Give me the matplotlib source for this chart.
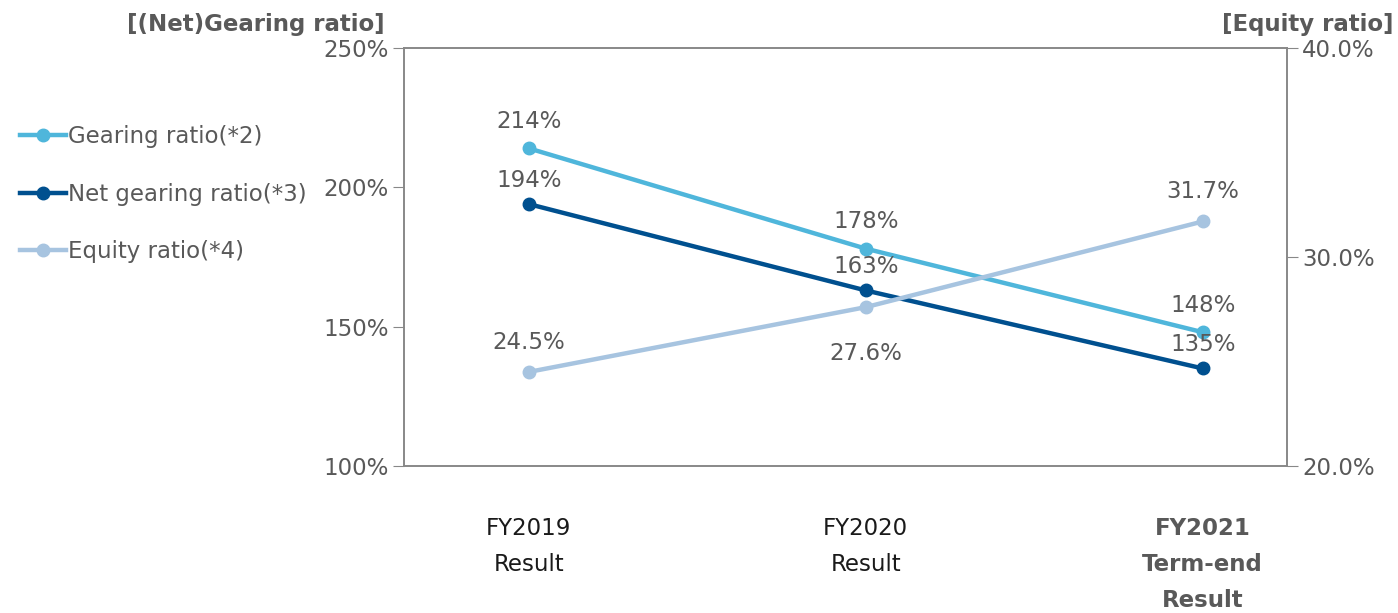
import numpy as np
import matplotlib.pyplot as plt

categories = ['FY2019\nResult', 'FY2020\nResult', 'FY2021\nTerm-end\nResult']
gearing = [214, 178, 148]
net_gearing = [194, 163, 135]
equity = [24.5, 27.6, 31.7]

c_gear = '#4fb6db'
c_net = '#00508f'
c_eq = '#a7c4e0'
c_txt = '#595959'
fs = 16.5

plt.rcParams['font.family'] = 'DejaVu Sans'

fig = plt.figure(figsize=(13.98, 6.13), dpi=100)
ax = fig.add_axes([404 / 1398, 1 - 466 / 613, 883 / 1398, 418 / 613])
ax2 = ax.twinx()

x = np.arange(len(categories))
l1, = ax.plot(x, gearing, color=c_gear, lw=3.2, marker='o', ms=9, label='Gearing ratio(*2)')
l2, = ax.plot(x, net_gearing, color=c_net, lw=3.2, marker='o', ms=9, label='Net gearing ratio(*3)')
l3, = ax2.plot(x, equity, color=c_eq, lw=3.2, marker='o', ms=9, label='Equity ratio(*4)')

ax.set_xlim(-0.37, 2.25)
ax.set_ylim(100, 250)
ax.set_yticks([100, 150, 200, 250])
ax.set_yticklabels([f'{v}%' for v in [100, 150, 200, 250]])
ax2.set_ylim(20, 40)
ax2.set_yticks([20, 30, 40])
ax2.set_yticklabels([f'{v:.1f}%' for v in [20, 30, 40]])

ax.set_xticks(x)
ax.set_xticklabels(categories, linespacing=1.7)
for i, t in enumerate(ax.get_xticklabels()):
    t.set_color('#1a1a1a' if i < 2 else c_txt)
    if i == 2:
        t.set_fontweight('bold')
ax.tick_params(axis='x', length=0, pad=37, labelsize=fs)
ax.tick_params(axis='y', length=8, color='#888888', labelcolor=c_txt, labelsize=fs, pad=3)
ax2.tick_params(axis='y', length=8, color='#888888', labelcolor=c_txt, labelsize=fs, pad=3)

for a in (ax, ax2):
    for s in a.spines.values():
        s.set_color('#888888')
        s.set_linewidth(1.2)

# value labels
for i, v in enumerate(gearing):
    ax.annotate(f'{v}%', (x[i], v), xytext=(0, 11), textcoords='offset points',
                ha='center', va='bottom', fontsize=fs, color=c_txt)
for i, v in enumerate(net_gearing):
    ax.annotate(f'{v}%', (x[i], v), xytext=(0, 9), textcoords='offset points',
                ha='center', va='bottom', fontsize=fs, color=c_txt)
eq_off = [13, -25, 13]
for i, v in enumerate(equity):
    ax2.annotate(f'{v}%', (x[i], v), xytext=(0, eq_off[i]), textcoords='offset points',
                 ha='center', va='bottom' if eq_off[i] > 0 else 'top', fontsize=fs, color=c_txt)

fig.text(385 / 1398, 1 - 25 / 613, '[(Net)Gearing ratio]', ha='right', va='center',
         fontsize=fs, fontweight='bold', color=c_txt)
fig.text(1394 / 1398, 1 - 25 / 613, '[Equity ratio]', ha='right', va='center',
         fontsize=fs, fontweight='bold', color=c_txt)

fig.legend(handles=[l1, l2, l3], loc='upper left', bbox_to_anchor=(0.008, 1 - 116 / 613),
           frameon=False, fontsize=fs, labelcolor=c_txt, handlelength=2.0,
           handletextpad=0.1, labelspacing=1.5, borderaxespad=0)

fig.savefig('out.png', dpi=100)
